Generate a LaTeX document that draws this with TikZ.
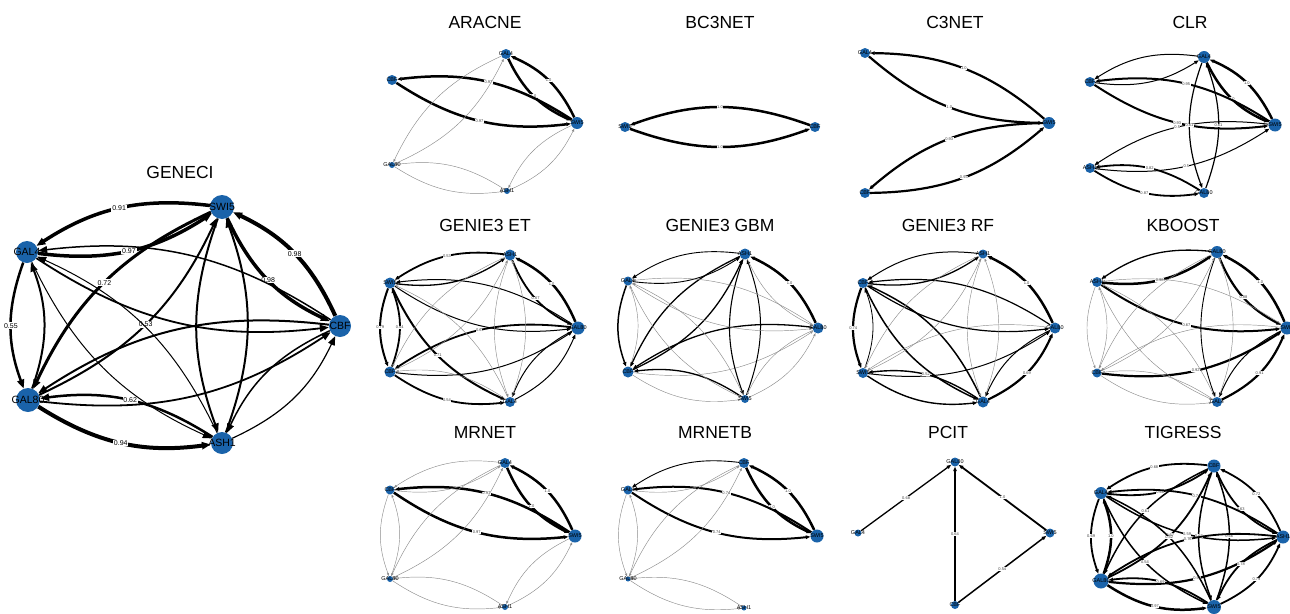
\documentclass[tikz,border=0pt]{standalone}
\usepackage{fontspec}
\setmainfont{Liberation Sans}
\usetikzlibrary{arrows.meta,backgrounds}
\definecolor{nb}{RGB}{26,99,170}
\tikzset{
  x=1pt,y=-1pt,
  gn/.style={circle,fill=nb,draw=none,inner sep=0pt,minimum size=#1},
  ttl/.style={font=\fontsize{17.5}{18}\selectfont},
  nlb/.style={font=\fontsize{10.5}{11}\selectfont,inner sep=0pt},
  nls/.style={font=\fontsize{5.5}{6}\selectfont,inner sep=0pt},
  B/.style={-{Triangle[length=9pt,width=7pt]},bend right=20,line width=#1},
  Sm/.style={-{Triangle[length=4.5pt,width=3.5pt]},bend right=20,line width=#1},
  Gr/.style={-{Triangle[length=3pt,width=2.2pt]},bend right=20,line width=0.45pt,draw=black!45},
  St/.style={-{Triangle[length=4.5pt,width=3.5pt]},line width=#1},
  elb/.style={fill=white,inner sep=0.8pt,font=\fontsize{7}{7}\selectfont},
  els/.style={fill=white,inner sep=0.4pt,font=\fontsize{4}{4}\selectfont,text=black!75},
}
\begin{document}
\begin{tikzpicture}
\useasboundingbox (0,0) rectangle (1290,613);
% ---------------- titles
\node[ttl] (tGENECI) at (180,172) {GENECI};
\node[ttl] (tARACNE) at (485,22) {ARACNE};
\node[ttl] (tBC3NET) at (720,22) {BC3NET};
\node[ttl] (tC3NET) at (955,22) {C3NET};
\node[ttl] (tCLR) at (1190,22) {CLR};
\node[ttl] (tET) at (485,225) {GENIE3 ET};
\node[ttl] (tGBM) at (720,225) {GENIE3 GBM};
\node[ttl] (tRF) at (948,225) {GENIE3 RF};
\node[ttl] (tKB) at (1183,225) {KBOOST};
\node[ttl] (tMR) at (485,432) {MRNET};
\node[ttl] (tMRB) at (715,432) {MRNETB};
\node[ttl] (tPC) at (948,432) {PCIT};
\node[ttl] (tTG) at (1183,432) {TIGRESS};
% ---------------- GENECI
\node[gn=24pt,label={[nlb]center:SWI5}] (gS) at (222,207) {};
\node[gn=22pt,label={[nlb]center:GAL4}] (gA) at (27,252) {};
\node[gn=22pt,label={[nlb]center:CBF}] (gC) at (340,326) {};
\node[gn=24pt,label={[nlb]center:GAL80}] (gG) at (28,400) {};
\node[gn=22pt,label={[nlb]center:ASH1}] (gH) at (222,443) {};
% ---------------- ARACNE
\node[gn=10pt,label={[nls]center:GAL4}] (aA) at (506,54) {};
\node[gn=10pt,label={[nls]center:CBF}] (aC) at (392,80) {};
\node[gn=12pt,label={[nls]center:SWI5}] (aS) at (577,123) {};
\node[gn=6pt,label={[nls]center:GAL80}] (aG) at (392,165) {};
\node[gn=6pt,label={[nls]center:ASH1}] (aH) at (507,191) {};
% ---------------- BC3NET
\node[gn=10pt,label={[nls]center:SWI5}] (bS) at (625,127) {};
\node[gn=10pt,label={[nls]center:CBF}] (bC) at (815,127) {};
% ---------------- C3NET
\node[gn=10pt,label={[nls]center:GAL4}] (cA) at (865,53) {};
\node[gn=12pt,label={[nls]center:SWI5}] (cS) at (1049,123) {};
\node[gn=10pt,label={[nls]center:CBF}] (cC) at (865,193) {};
% ---------------- CLR
\node[gn=12pt,label={[nls]center:GAL4}] (lA) at (1204,57) {};
\node[gn=10pt,label={[nls]center:CBF}] (lC) at (1090,82) {};
\node[gn=13pt,label={[nls]center:SWI5}] (lS) at (1275,125) {};
\node[gn=10pt,label={[nls]center:ASH1}] (lH) at (1090,168) {};
\node[gn=10pt,label={[nls]center:GAL80}] (lG) at (1204,193) {};
% ---------------- GENIE3 ET
\node[gn=11pt,label={[nls]center:ASH1}] (eH) at (510,255) {};
\node[gn=11pt,label={[nls]center:SWI5}] (eS) at (390,283) {};
\node[gn=13pt,label={[nls]center:GAL80}] (eG) at (578,328) {};
\node[gn=11pt,label={[nls]center:CBF}] (eC) at (390,372) {};
\node[gn=10pt,label={[nls]center:GAL4}] (eA) at (510,402) {};
% ---------------- GENIE3 GBM
\node[gn=11pt,label={[nls]center:ASH1}] (mH) at (745,254) {};
\node[gn=9pt,label={[nls]center:GAL4}] (mA) at (628,281) {};
\node[gn=11pt,label={[nls]center:GAL80}] (mG) at (818,328) {};
\node[gn=11pt,label={[nls]center:CBF}] (mC) at (628,372) {};
\node[gn=8pt,label={[nls]center:SWI5}] (mS) at (745,399) {};
% ---------------- GENIE3 RF
\node[gn=9pt,label={[nls]center:ASH1}] (rH) at (983,254) {};
\node[gn=10pt,label={[nls]center:CBF}] (rC) at (863,283) {};
\node[gn=11pt,label={[nls]center:GAL80}] (rG) at (1055,328) {};
\node[gn=10pt,label={[nls]center:SWI5}] (rS) at (863,373) {};
\node[gn=11pt,label={[nls]center:GAL4}] (rA) at (983,402) {};
% ---------------- KBOOST
\node[gn=12pt,label={[nls]center:GAL80}] (kG) at (1217,252) {};
\node[gn=10pt,label={[nls]center:ASH1}] (kH) at (1097,282) {};
\node[gn=13pt,label={[nls]center:SWI5}] (kS) at (1287,328) {};
\node[gn=9pt,label={[nls]center:CBF}] (kC) at (1097,373) {};
\node[gn=10pt,label={[nls]center:GAL4}] (kA) at (1217,402) {};
% ---------------- MRNET
\node[gn=10pt,label={[nls]center:GAL4}] (nA) at (505,463) {};
\node[gn=9pt,label={[nls]center:CBF}] (nC) at (390,490) {};
\node[gn=13pt,label={[nls]center:SWI5}] (nS) at (575,536) {};
\node[gn=6pt,label={[nls]center:GAL80}] (nG) at (390,579) {};
\node[gn=6pt,label={[nls]center:ASH1}] (nH) at (505,607) {};
% ---------------- MRNETB
\node[gn=10pt,label={[nls]center:CBF}] (qC) at (744,463) {};
\node[gn=9pt,label={[nls]center:GAL4}] (qA) at (628,490) {};
\node[gn=13pt,label={[nls]center:SWI5}] (qS) at (817,536) {};
\node[gn=5pt,label={[nls]center:GAL80}] (qG) at (628,579) {};
\node[gn=5pt,label={[nls]center:ASH1}] (qH) at (744,608) {};
% ---------------- PCIT
\node[gn=9pt,label={[nls]center:GAL80}] (pG) at (955,462) {};
\node[gn=7pt,label={[nls]center:GAL4}] (pA) at (858,533) {};
\node[gn=9pt,label={[nls]center:SWI5}] (pS) at (1050,533) {};
\node[gn=8pt,label={[nls]center:CBF}] (pC) at (955,605) {};
% ---------------- TIGRESS
\node[gn=13pt,label={[nls]center:CBF}] (tC) at (1214,466) {};
\node[gn=12pt,label={[nls]center:GAL4}] (tA) at (1101,493) {};
\node[gn=13pt,label={[nls]center:ASH1}] (tH) at (1283,537) {};
\node[gn=15pt,label={[nls]center:GAL80}] (tG) at (1101,581) {};
\node[gn=14pt,label={[nls]center:SWI5}] (tS) at (1214,607) {};

\begin{scope}[on background layer]
% GENECI edges
\draw[B=3.5pt] (gS) to node[elb]{0.91} (gA);
\draw[B=3.5pt] (gA) to node[elb]{0.97} (gS);
\draw[B=4pt] (gC) to node[elb]{0.98} (gS);
\draw[B=3.5pt] (gS) to node[elb]{0.98} (gC);
\draw[B=3pt] (gS) to node[elb]{0.72} (gG);
\draw[B=2pt] (gG) to node[elb]{0.53} (gS);
\draw[B=2.5pt] (gA) to node[elb]{0.55} (gG);
\draw[B=2pt] (gG) to (gA);
\draw[B=4pt] (gG) to node[elb]{0.94} (gH);
\draw[B=2.5pt] (gH) to node[elb]{0.62} (gG);
\draw[B=2pt] (gS) to (gH);
\draw[B=2pt] (gH) to (gS);
\draw[B=1.8pt] (gA) to (gC);
\draw[B=1.5pt] (gC) to (gA);
\draw[B=1pt] (gA) to (gH);
\draw[B=1pt] (gH) to (gA);
\draw[B=1.8pt] (gG) to (gC);
\draw[B=2pt] (gC) to (gG);
\draw[B=1.2pt] (gH) to (gC);
\draw[B=1.5pt] (gC) to (gH);
% ARACNE
\draw[Sm=2.5pt] (aS) to node[els]{1.0} (aA);
\draw[Sm=2.5pt] (aA) to node[els]{1.0} (aS);
\draw[Sm=2.5pt] (aS) to node[els]{0.97} (aC);
\draw[Sm=2.5pt] (aC) to node[els]{0.97} (aS);
\draw[Gr] (aA) to (aG); \draw[Gr] (aG) to (aA);
\draw[Gr] (aS) to (aH); \draw[Gr] (aH) to (aS);
\draw[Gr] (aG) to (aH); \draw[Gr] (aH) to (aG);
% BC3NET
\draw[Sm=2.5pt] (bS) to node[els]{1.0} (bC);
\draw[Sm=2.5pt] (bC) to node[els]{1.0} (bS);
% C3NET
\draw[Sm=2.2pt] (cS) to node[els]{1.0} (cA);
\draw[Sm=2.2pt] (cA) to node[els]{1.0} (cS);
\draw[Sm=2.2pt] (cS) to node[els]{0.93} (cC);
\draw[Sm=2.2pt] (cC) to node[els]{0.93} (cS);
% CLR
\draw[Sm=2.5pt] (lS) to node[els]{1.0} (lA);
\draw[Sm=2.5pt] (lA) to node[els]{1.0} (lS);
\draw[Sm=2pt] (lS) to node[els]{0.95} (lC);
\draw[Sm=2pt] (lC) to node[els]{0.93} (lS);
\draw[Sm=1pt] (lA) to (lC);
\draw[Sm=1pt] (lC) to (lA);
\draw[Sm=1pt] (lS) to node[els]{0.5} (lH);
\draw[Sm=1pt] (lH) to node[els]{0.5} (lS);
\draw[Sm=1.2pt] (lA) to node[els]{0.61} (lG);
\draw[Sm=1.2pt] (lG) to node[els]{0.61} (lA);
\draw[Sm=1.8pt] (lH) to node[els]{0.87} (lG);
\draw[Sm=1.8pt] (lG) to node[els]{0.82} (lH);
% GENIE3 ET
\draw[Sm=1.8pt] (eH) to node[els]{0.53} (eS);
\draw[Sm=1.3pt] (eS) to (eH);
\draw[Sm=2.5pt] (eG) to node[els]{1.0} (eH);
\draw[Sm=1.8pt] (eH) to node[els]{0.67} (eG);
\draw[Sm=2pt] (eS) to node[els]{0.79} (eC);
\draw[Sm=1.8pt] (eC) to node[els]{0.54} (eS);
\draw[Sm=1.8pt] (eG) to node[els]{0.6} (eC);
\draw[Sm=2pt] (eS) to node[els]{0.71} (eA);
\draw[Sm=1.8pt] (eC) to node[els]{0.54} (eA);
\draw[Sm=1pt] (eC) to (eG);
\draw[Sm=1pt] (eS) to (eG);
\draw[Sm=1pt] (eG) to (eS);
\draw[Sm=1pt] (eA) to (eG);
\draw[Sm=1pt] (eG) to (eA);
\draw[Gr] (eH) to (eA); \draw[Gr] (eA) to (eH);
\draw[Gr] (eC) to (eH); \draw[Gr] (eH) to (eC);
\draw[Gr] (eA) to (eC); \draw[Gr] (eA) to (eS);
% GENIE3 GBM
\draw[Sm=2.5pt] (mG) to node[els]{1.0} (mH);
\draw[Sm=0.9pt] (mH) to (mA);
\draw[Sm=0.9pt] (mA) to (mH);
\draw[Sm=1.5pt] (mA) to (mC);
\draw[Gr] (mC) to (mA);
\draw[Sm=1.3pt] (mC) to (mH);
\draw[Sm=1.3pt] (mH) to (mC);
\draw[Sm=1.3pt] (mG) to (mC);
\draw[Gr] (mC) to (mG);
\draw[Sm=1.3pt] (mS) to (mC);
\draw[Gr] (mC) to (mS);
\draw[Sm=1.1pt] (mH) to (mS);
\draw[Sm=1pt] (mS) to (mH);
\draw[Gr] (mA) to (mG); \draw[Gr] (mG) to (mA);
\draw[Gr] (mA) to (mS); \draw[Gr] (mS) to (mA);
\draw[Gr] (mG) to (mS); \draw[Gr] (mS) to (mG);
\draw[Gr] (mH) to (mG);
% GENIE3 RF
\draw[Sm=2.5pt] (rG) to node[els]{1.0} (rH);
\draw[Sm=1pt] (rH) to (rC);
\draw[Sm=1.3pt] (rC) to (rH);
\draw[Sm=2.2pt] (rC) to node[els]{0.74} (rS);
\draw[Sm=0.8pt] (rS) to (rC);
\draw[Sm=1.5pt] (rC) to (rA);
\draw[Sm=1.5pt] (rA) to (rC);
\draw[Sm=1.2pt] (rC) to (rG);
\draw[Sm=1.2pt] (rG) to (rC);
\draw[Sm=1pt] (rS) to (rG);
\draw[Gr] (rG) to (rS);
\draw[Sm=1.4pt] (rS) to (rA);
\draw[Sm=1.4pt] (rA) to node[els]{0.52} (rS);
\draw[Sm=2.2pt] (rA) to node[els]{0.69} (rG);
\draw[Sm=1pt] (rG) to (rA);
\draw[Gr] (rH) to (rA); \draw[Gr] (rA) to (rH);
\draw[Gr] (rS) to (rH); \draw[Gr] (rH) to (rS);
% KBOOST
\draw[Sm=2.5pt] (kS) to node[els]{1.0} (kG);
\draw[Sm=2.2pt] (kG) to node[els]{0.88} (kS);
\draw[Sm=2.5pt] (kH) to node[els]{0.98} (kG);
\draw[Sm=1.3pt] (kG) to (kH);
\draw[Sm=2pt] (kH) to node[els]{0.67} (kS);
\draw[Gr] (kS) to (kH);
\draw[Sm=2.2pt] (kC) to node[els]{0.92} (kS);
\draw[Gr] (kS) to (kC);
\draw[Sm=2.2pt] (kA) to node[els]{0.91} (kS);
\draw[Sm=1pt] (kS) to (kA);
\draw[Sm=0.9pt] (kG) to (kA);
\draw[Gr] (kA) to (kG);
\draw[Gr] (kH) to (kC); \draw[Gr] (kC) to (kH);
\draw[Gr] (kC) to (kA); \draw[Gr] (kA) to (kC);
\draw[Gr] (kH) to (kA); \draw[Gr] (kA) to (kH);
\draw[Gr] (kG) to (kC); \draw[Gr] (kC) to (kG);
% MRNET
\draw[Sm=2.5pt] (nS) to node[els]{1.0} (nA);
\draw[Sm=2.5pt] (nA) to node[els]{1.0} (nS);
\draw[Sm=2.5pt] (nS) to node[els]{0.97} (nC);
\draw[Sm=2.5pt] (nC) to node[els]{0.97} (nS);
\draw[Gr] (nA) to (nC); \draw[Gr] (nC) to (nA);
\draw[Gr] (nC) to (nG); \draw[Gr] (nG) to (nC);
\draw[Gr] (nA) to (nG); \draw[Gr] (nG) to (nA);
\draw[Gr] (nS) to (nH); \draw[Gr] (nH) to (nS);
\draw[Gr] (nG) to (nH); \draw[Gr] (nH) to (nG);
% MRNETB
\draw[Sm=2.5pt] (qS) to node[els]{1.0} (qC);
\draw[Sm=2.5pt] (qC) to node[els]{1.0} (qS);
\draw[Sm=2pt] (qS) to node[els]{0.74} (qA);
\draw[Sm=2pt] (qA) to node[els]{0.74} (qS);
\draw[Sm=0.9pt] (qC) to (qA);
\draw[Gr] (qA) to (qC);
\draw[Gr] (qA) to (qG); \draw[Gr] (qG) to (qA);
\draw[Gr] (qC) to (qG); \draw[Gr] (qG) to (qC);
\draw[Gr] (qG) to (qH); \draw[Gr] (qH) to (qG);
% PCIT
\draw[St=1.3pt] (pA) -- node[els]{0.68} (pG);
\draw[St=1.8pt] (pS) -- node[els]{1.0} (pG);
\draw[St=2.5pt] (pC) -- node[els]{0.64} (pG);
\draw[St=1.5pt] (pC) -- node[els]{0.54} (pS);
% TIGRESS
\draw[Sm=1.8pt] (tC) to node[els]{0.68} (tA);
\draw[Sm=1.8pt] (tA) to node[els]{0.66} (tC);
\draw[Sm=1.8pt] (tH) to node[els]{0.72} (tC);
\draw[Sm=1.8pt] (tC) to node[els]{0.63} (tH);
\draw[Sm=1.8pt] (tH) to node[els]{0.74} (tA);
\draw[Sm=1.5pt] (tA) to node[els]{0.59} (tH);
\draw[Sm=1.8pt] (tG) to node[els]{0.67} (tC);
\draw[Sm=1.5pt] (tC) to node[els]{0.61} (tG);
\draw[Sm=1.8pt] (tA) to node[els]{0.69} (tG);
\draw[Sm=2.5pt] (tG) to node[els]{1.0} (tA);
\draw[Sm=1.5pt] (tC) to node[els]{0.62} (tS);
\draw[Sm=1.5pt] (tS) to node[els]{0.66} (tC);
\draw[Sm=2.2pt] (tG) to node[els]{0.92} (tH);
\draw[Sm=1.8pt] (tH) to node[els]{0.76} (tG);
\draw[Sm=1.5pt] (tA) to node[els]{0.54} (tS);
\draw[Sm=1.5pt] (tS) to node[els]{0.52} (tA);
\draw[Sm=1.8pt] (tH) to node[els]{0.78} (tS);
\draw[Sm=1.8pt] (tS) to node[els]{0.79} (tH);
\draw[Sm=2.5pt] (tG) to node[els]{0.97} (tS);
\draw[Sm=1.8pt] (tS) to node[els]{0.69} (tG);
\end{scope}
\end{tikzpicture}
\end{document}
